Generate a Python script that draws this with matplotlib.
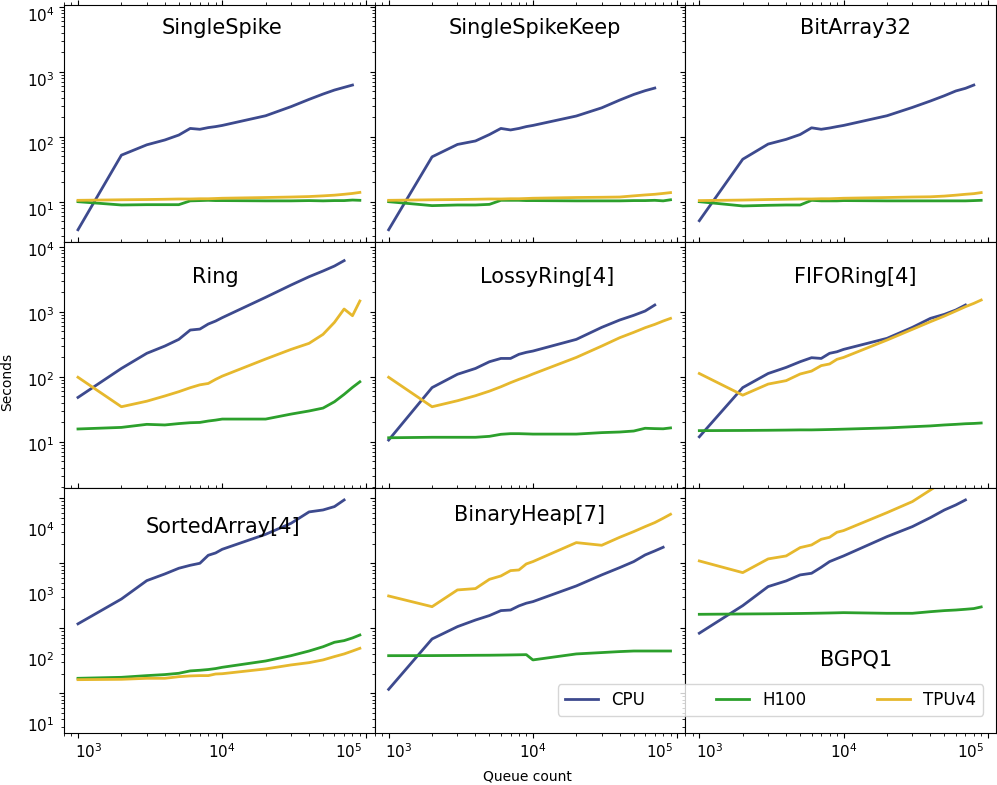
import matplotlib
matplotlib.use("Agg")
import matplotlib.pyplot as plt
import matplotlib.transforms as mtransforms

# queue counts measured (CPU runs stop earlier in some panels)
QUEUE_COUNTS = [1000, 2000, 3000, 4000, 5000, 6000, 7000, 8000, 9000,
                10000, 20000, 30000, 40000, 50000, 60000, 70000, 80000, 90000]

SINGLE_SPIKE_CPU = [3.7, 52, 75, 89, 106, 134, 130, 138, 143, 149, 210, 290, 375, 453, 522, 574, 623]
SINGLE_SPIKE_H100 = [10.0, 8.9, 9.0, 9.0, 9.0, 10.3, 10.4, 10.5, 10.4, 10.4, 10.3, 10.3, 10.4, 10.3, 10.4, 10.4, 10.6, 10.5]
SINGLE_SPIKE_TPU = [10.5, 10.7, 10.8, 10.9, 11.0, 11.0, 11.1, 11.1, 11.2, 11.3, 11.6, 11.8, 12.0, 12.3, 12.6, 13.0, 13.4, 13.9]

SINGLE_SPIKE_KEEP_CPU = [3.7, 49, 76, 86, 108, 134, 127, 134, 143, 149, 208, 278, 366, 446, 510, 560]
SINGLE_SPIKE_KEEP_H100 = [10.0, 8.7, 8.9, 8.9, 9.1, 10.5, 10.5, 10.5, 10.4, 10.4, 10.3, 10.3, 10.3, 10.4, 10.4, 10.5, 10.3, 10.7]
SINGLE_SPIKE_KEEP_TPU = [10.5, 10.7, 10.8, 10.9, 11.0, 11.0, 11.1, 11.1, 11.2, 11.3, 11.6, 11.7, 11.8, 12.3, 12.7, 13.0, 13.4, 13.8]

BIT_ARRAY_CPU = [5.1, 45, 77, 91, 108, 137, 130, 136, 143, 149, 210, 282, 354, 427, 505, 555, 623]
BIT_ARRAY_H100 = [10.0, 8.6, 8.8, 8.9, 8.9, 10.5, 10.3, 10.3, 10.3, 10.4, 10.3, 10.3, 10.3, 10.3, 10.3, 10.3, 10.4, 10.5]
BIT_ARRAY_TPU = [10.4, 10.6, 10.8, 10.9, 11.0, 11.0, 11.1, 11.1, 11.2, 11.3, 11.6, 11.8, 11.9, 12.2, 12.6, 13.0, 13.3, 13.8]

RING_CPU = [48, 134, 229, 296, 375, 522, 540, 646, 718, 809, 1664, 2570, 3450, 4225, 5040, 6100]
RING_H100 = [15.7, 16.6, 18.5, 18.1, 19.0, 19.6, 19.8, 20.8, 21.5, 22.3, 22.3, 26.6, 29.7, 32.9, 41.2, 53.5, 68.5, 83.5]
RING_TPU = [98, 34.5, 42, 50.5, 58.8, 67.7, 75, 78.7, 91, 102, 187, 263, 326, 448, 686, 1100, 867, 1460]

LOSSY_RING_CPU = [10.6, 68, 109, 134, 170, 191, 191, 221, 237, 248, 375, 574, 745, 879, 1024, 1267]
LOSSY_RING_H100 = [11.5, 11.7, 11.7, 11.7, 12.1, 13.0, 13.3, 13.3, 13.2, 13.1, 13.1, 13.8, 14.1, 14.6, 16.1, 15.9, 15.8, 16.3]
LOSSY_RING_TPU = [98, 34.5, 42.7, 51, 60, 70, 81, 91, 100, 110, 198, 296, 398, 481, 567, 638, 718, 789]

FIFO_RING_CPU = [11.9, 68, 112, 139, 170, 196, 191, 229, 242, 263, 389, 574, 789, 910, 1062, 1267]
FIFO_RING_H100 = [14.8, 14.9, 15.0, 15.1, 15.2, 15.2, 15.3, 15.4, 15.5, 15.6, 16.3, 17.0, 17.5, 18.1, 18.5, 18.9, 19.1, 19.4]
FIFO_RING_TPU = [112, 52, 77, 87, 110, 122, 148, 157, 185, 198, 366, 535, 701, 857, 1024, 1194, 1343, 1511]

SORTED_ARRAY_CPU = [117, 282, 541, 685, 838, 931, 1000, 1327, 1442, 1641, 2790, 4120, 6170, 6610, 7450, 9420]
SORTED_ARRAY_H100 = [17.0, 17.6, 18.7, 19.4, 20.3, 22.1, 22.6, 23.2, 24.0, 25.1, 31.4, 37.9, 44.7, 52, 60.9, 64.6, 71, 78.8]
SORTED_ARRAY_TPU = [16.2, 16.4, 17.0, 17.0, 18.0, 18.5, 18.7, 18.7, 19.8, 20.0, 23.7, 27.3, 29.6, 32.6, 36.7, 40.3, 44.7, 49.2]

BINARY_HEAP_CPU = [11.5, 68.5, 106, 134, 157, 187, 191, 221, 243, 257, 448, 662, 858, 1061, 1344, 1549, 1763]
BINARY_HEAP_H100 = [37.9, 38.0, 38.2, 38.4, 38.5, 38.7, 38.9, 39.1, 39.3, 32.6, 40.3, 42.3, 43.8, 44.7, 44.7, 44.7, 44.7, 44.7]
BINARY_HEAP_TPU = [314, 215, 389, 408, 567, 638, 771, 789, 977, 1061, 2079, 1892, 2512, 3070, 3665, 4225, 4925, 5674]

BGPQ1_CPU = [84, 223, 438, 535, 662, 702, 868, 1061, 1181, 1297, 2570, 3665, 5040, 6607, 7890, 9420]
BGPQ1_H100 = [164, 166, 167, 168, 169, 170, 171, 172, 173, 174, 170, 170, 180, 187, 191, 196, 201, 213]
BGPQ1_TPU = [1086, 718, 1167, 1297, 1742, 1914, 2339, 2512, 3000, 3184, 6010, 8890, 13400, 18500, 22000, 26000, 30000, 34000]

PANEL_NAMES = ["SingleSpike", "SingleSpikeKeep", "BitArray32",
               "Ring", "LossyRing[4]", "FIFORing[4]",
               "SortedArray[4]", "BinaryHeap[7]", "BGPQ1"]

SERIES_LABELS = ["CPU", "H100", "TPUv4"]
SERIES_COLORS = ["#3d4a8e", "#2ca02c", "#e6b82d"]

# where each panel name sits (axes fraction)
NAME_POS = [(0.508, 0.903), (0.517, 0.903), (0.548, 0.903),
            (0.486, 0.859), (0.555, 0.859), (0.548, 0.859),
            (0.512, 0.842), (0.498, 0.89), (0.548, 0.298)]

ROW_YLIM = [(10 ** 0.38, 10 ** 4.026), (10 ** 0.288, 10 ** 4.072), (10 ** 0.389, 10 ** 4.158)]
Y_TICKS = [10, 100, 1000, 10000]
X_TICKS = [1e3, 1e4, 1e5]

# tick labels in the original are drawn a little away from their ticks (pixels)
ROW_LABEL_DROP = [7, 2, 31]
X_LABEL_SHIFT = [10.5, 0, -17.5]

W, H = 997, 785


def main() -> None:
    panel_data = [
        (SINGLE_SPIKE_CPU, SINGLE_SPIKE_H100, SINGLE_SPIKE_TPU),
        (SINGLE_SPIKE_KEEP_CPU, SINGLE_SPIKE_KEEP_H100, SINGLE_SPIKE_KEEP_TPU),
        (BIT_ARRAY_CPU, BIT_ARRAY_H100, BIT_ARRAY_TPU),
        (RING_CPU, RING_H100, RING_TPU),
        (LOSSY_RING_CPU, LOSSY_RING_H100, LOSSY_RING_TPU),
        (FIFO_RING_CPU, FIFO_RING_H100, FIFO_RING_TPU),
        (SORTED_ARRAY_CPU, SORTED_ARRAY_H100, SORTED_ARRAY_TPU),
        (BINARY_HEAP_CPU, BINARY_HEAP_H100, BINARY_HEAP_TPU),
        (BGPQ1_CPU, BGPQ1_H100, BGPQ1_TPU),
    ]

    fig, axes = plt.subplots(
        3, 3, figsize=(W / 100, H / 100), dpi=100, sharex=True, sharey="row",
        gridspec_kw={"hspace": 0, "wspace": 0, "height_ratios": [237, 246, 245]},
    )
    fig.subplots_adjust(left=64 / W, right=996 / W, top=1 - 5 / H, bottom=1 - 733 / H)

    for i, ax in enumerate(axes.flat):
        for series, label, color in zip(panel_data[i], SERIES_LABELS, SERIES_COLORS):
            ax.plot(QUEUE_COUNTS[:len(series)], series, color=color, lw=2, label=label)
        ax.set_xscale("log")
        ax.set_yscale("log")
        ax.text(*NAME_POS[i], PANEL_NAMES[i], transform=ax.transAxes,
                ha="center", va="center", fontsize=15)
        ax.tick_params(which="both", top=True, right=True, labelsize=11)

    axes[0, 0].set_xlim(800, 114000)
    for row in range(3):
        ax = axes[row, 0]
        ax.set_ylim(*ROW_YLIM[row])
        ax.set_yticks(Y_TICKS)
        drop = mtransforms.ScaledTranslation(0, -ROW_LABEL_DROP[row] / 100, fig.dpi_scale_trans)
        for tick in ax.yaxis.get_major_ticks():
            tick.label1.set_transform(tick.label1.get_transform() + drop)

    for col in range(3):
        ax = axes[2, col]
        ax.set_xticks(X_TICKS)
        for tick, dx in zip(ax.xaxis.get_major_ticks(), X_LABEL_SHIFT):
            move = mtransforms.ScaledTranslation(dx / 100, 0, fig.dpi_scale_trans)
            tick.label1.set_transform(tick.label1.get_transform() + move)

    fig.text(7 / W, 1 - 382 / H, "Seconds", rotation=90, ha="center", va="center", fontsize=10)
    fig.text(527 / W, 1 - 777 / H, "Queue count", ha="center", va="center", fontsize=10)

    handles, labels = axes[0, 0].get_legend_handles_labels()
    fig.legend(handles, labels, ncol=3, mode="expand", loc="center",
               bbox_to_anchor=(558 / W, 1 - 715 / H, 425 / W, 30 / H),
               borderaxespad=0, fontsize=12)

    fig.savefig("out.png", dpi=100)


if __name__ == "__main__":
    main()
